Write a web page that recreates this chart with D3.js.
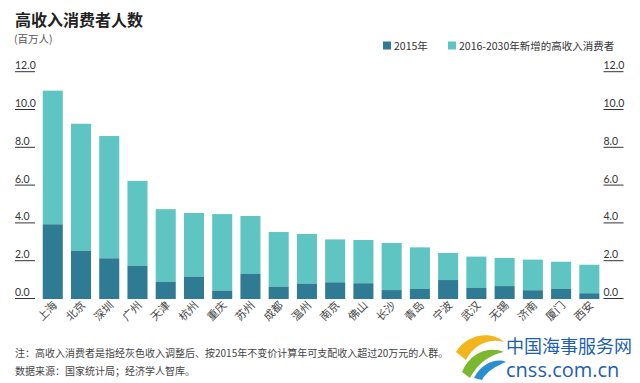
<!DOCTYPE html>
<html>
<head>
<meta charset="utf-8">
<script src="https://cdn.jsdelivr.net/npm/d3@7"></script>
<style>
  body { margin: 0; background: #fff; }
  svg { font-family: "Noto Sans CJK SC", "Noto Sans", sans-serif; }
</style>
</head>
<body>
<div class="chart"></div>
<script>
// data (millions of people)
var cities = ["上海", "北京", "深圳", "广州", "天津", "杭州", "重庆", "苏州", "成都", "温州",
  "南京", "佛山", "长沙", "青岛", "宁波", "武汉", "无锡", "济南", "厦门", "西安"];
var base2015 = [3.9, 2.5, 2.1, 1.7, 0.85, 1.13, 0.39, 1.27, 0.6, 0.76,
  0.83, 0.78, 0.42, 0.48, 0.95, 0.53, 0.63, 0.41, 0.48, 0.25];
var total2030 = [10.97, 9.22, 8.57, 6.2, 4.7, 4.5, 4.44, 4.34, 3.49, 3.39,
  3.1, 3.07, 2.91, 2.68, 2.38, 2.19, 2.12, 2.03, 1.92, 1.76];
var yTicks = [0, 2, 4, 6, 8, 10, 12];
var legendLabels = ["2015年", "2016-2030年新增的高收入消费者"];

var svgWidth = 640;
var svgHeight = 383;
var darkColor = "#2f7b94";
var lightColor = "#5fc5c2";

var svg = d3.select(".chart")
  .append("svg")
  .attr("width", svgWidth)
  .attr("height", svgHeight);

// scales
var xScale = d3.scaleBand()
  .domain(cities)
  .range([38.5, 603.6])
  .paddingInner(0.29)
  .paddingOuter(0.15);

var yScale = d3.scaleLinear()
  .domain([0, 12])
  .range([298, 71.2]);

// title
svg.append("text")
  .attr("x", 15)
  .attr("y", 26)
  .attr("font-size", 16)
  .attr("font-weight", "bold")
  .attr("fill", "#222")
  .text("高收入消费者人数");

svg.append("text")
  .attr("x", 14)
  .attr("y", 43)
  .attr("font-size", 10.5)
  .attr("fill", "#555")
  .text("(百万人)");

// legend
var legend = svg.append("g");
var legendX = [383, 448];
legendLabels.forEach(function(label, i) {
  legend.append("rect")
    .attr("x", legendX[i])
    .attr("y", 41.5)
    .attr("width", 8)
    .attr("height", 8)
    .attr("fill", i === 0 ? darkColor : lightColor);
  legend.append("text")
    .attr("x", legendX[i] + 11)
    .attr("y", 49.5)
    .attr("font-size", 10.5)
    .attr("fill", "#333")
    .text(label);
});

// y axes, left and right: label with a short underline
function drawAxis(x) {
  var axisGroup = svg.append("g");
  var ticks = axisGroup.selectAll("g")
    .data(yTicks)
    .enter()
    .append("g")
    .attr("transform", d => `translate(${x}, ${yScale(d)})`);
  ticks.append("line")
    .attr("x1", 0)
    .attr("x2", 20)
    .attr("y1", 0.5)
    .attr("y2", 0.5)
    .attr("stroke", "#333")
    .attr("stroke-width", 1);
  ticks.append("text")
    .attr("x", 0)
    .attr("y", -2)
    .attr("font-size", 10.5)
    .attr("fill", "#333")
    .attr("font-family", "Lato, 'Open Sans', sans-serif")
    .text(d => d3.format(".1f")(d));
}
drawAxis(15);
drawAxis(603.5);

// stacked bars: 2015 at bottom, new ones on top
var bars = svg.append("g");
bars.selectAll(".total")
  .data(cities)
  .enter()
  .append("rect")
  .attr("x", d => xScale(d))
  .attr("width", xScale.bandwidth())
  .attr("y", (d, i) => yScale(total2030[i]))
  .attr("height", (d, i) => yScale(base2015[i]) - yScale(total2030[i]))
  .attr("fill", lightColor);

bars.selectAll(".base")
  .data(cities)
  .enter()
  .append("rect")
  .attr("x", d => xScale(d))
  .attr("width", xScale.bandwidth())
  .attr("y", (d, i) => yScale(base2015[i]))
  .attr("height", (d, i) => yScale(0) + 1 - yScale(base2015[i]))
  .attr("fill", darkColor);

// rotated city labels
svg.append("g")
  .selectAll("text")
  .data(cities)
  .enter()
  .append("text")
  .attr("transform", d => `translate(${xScale(d) + xScale.bandwidth() / 2 + 5}, ${306}) rotate(-45)`)
  .attr("text-anchor", "end")
  .attr("font-size", 11)
  .attr("fill", "#444")
  .text(d => d);

// footnotes
svg.append("text")
  .attr("x", 15)
  .attr("y", 357)
  .attr("font-size", 10)
  .attr("fill", "#444")
  .text("注：高收入消费者是指经灰色收入调整后、按2015年不变价计算年可支配收入超过20万元的人群。");

svg.append("text")
  .attr("x", 15)
  .attr("y", 375)
  .attr("font-size", 10)
  .attr("fill", "#444")
  .text("数据来源：国家统计局；经济学人智库。");

// watermark logo
var logo = svg.append("g")
  .attr("transform", "translate(4, 0)");
logo.append("path")
  .attr("d", "M452,352 C462,334 488,330 500,342 C486,338 470,344 462,360 Z")
  .attr("fill", "#f2b51c");
logo.append("path")
  .attr("d", "M458,372 C466,352 486,346 500,352 C488,354 474,362 466,378 Z")
  .attr("fill", "#7cb82f");
logo.append("path")
  .attr("d", "M470,378 C478,362 494,358 502,362 C492,366 482,372 478,380 Z")
  .attr("fill", "#2a8fd0");
logo.append("text")
  .attr("x", 502)
  .attr("y", 353)
  .attr("font-size", 18)
  .attr("fill", "#1d5fae")
  .text("中国海事服务网");
logo.append("text")
  .attr("x", 502)
  .attr("y", 377)
  .attr("font-size", 20)
  .attr("fill", "#1d5fae")
  .attr("font-family", "'Open Sans', sans-serif")
  .text("cnss.com.cn");
</script>
</body>
</html>
